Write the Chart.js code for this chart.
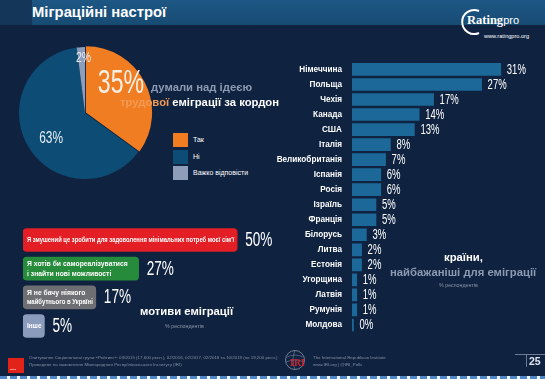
<!DOCTYPE html>
<html><head><meta charset="utf-8">
<script src="https://cdn.jsdelivr.net/npm/chart.js@4.4.1/dist/chart.umd.min.js"></script>
<style>
html,body{margin:0;padding:0;}
body{width:545px;height:379px;position:relative;overflow:hidden;background:#0f2240;font-family:"Liberation Sans",Arial,sans-serif;}
.abs{position:absolute;white-space:nowrap;}
#hdr{left:32px;top:0;width:513px;height:25px;background:linear-gradient(#1d5784,#174b74);}
#hdrl{left:0;top:0;width:32px;height:25px;background:#133659;}
#title{left:32px;top:4px;color:#fff;font-weight:bold;font-size:14.8px;}
.lg{position:absolute;left:173px;width:15px;height:14px;}
.lgt{position:absolute;left:193px;color:#fff;font-size:7px;}
.small{color:#8b97a9;font-size:5.3px;}
.foot{color:#8390a3;font-size:4.4px;line-height:7px;}
.hl{font-weight:bold;font-size:11.3px;}
</style>
</head>
<body>
<div id="hdrl" class="abs"></div>
<div id="hdr" class="abs"></div>
<div id="title" class="abs">Міграційні настрої</div>

<!-- logo -->
<svg class="abs" style="left:455px;top:6px" width="90" height="36">
  <path d="M 24 5 A 12 12 0 1 0 24 27" fill="none" stroke="#fff" stroke-width="2"/>
</svg>
<div class="abs" style="left:467px;top:13px;color:#fff;font-size:12.5px;font-weight:bold;font-family:'Liberation Serif',serif;">Rating<span style="font-weight:normal;font-family:'Liberation Sans',sans-serif;font-size:11px">pro</span></div>
<div class="abs" style="left:484px;top:33px;color:#fff;font-size:5.6px;">www.ratingpro.org</div>

<!-- pie -->
<div class="abs" style="left:17px;top:45px;width:136px;height:136px;"><canvas id="pie" width="136" height="136"></canvas></div>
<div class="abs hl" style="left:151px;top:81px;color:#8b9ab3;z-index:3">думали над ідеєю</div>
<div class="abs hl" style="left:120px;top:96px;color:#fff;z-index:3"><span style="color:#f39a55">трудової</span> еміграції за кордон</div>
<div id="legend"></div>

<!-- countries -->
<div class="abs" style="left:270px;top:55px;width:275px;height:285px;"><canvas id="countries" width="275" height="285"></canvas></div>
<div class="abs hl" style="left:444px;top:251px;color:#fff;">країни,</div>
<div class="abs hl" style="left:390px;top:266px;color:#8b9ab3;">найбажаніші для еміграції</div>
<div class="abs small" style="left:439px;top:282px;">% респондентів</div>

<!-- motives -->
<div class="abs" style="left:0px;top:222px;width:280px;height:122px;"><canvas id="motives" width="280" height="122"></canvas></div>
<div class="abs hl" style="left:140px;top:305px;color:#fff;">мотиви еміграції</div>
<div class="abs small" style="left:165px;top:323px;">% респондентів</div>

<!-- footer -->
<div class="abs" style="left:8px;top:358px;width:16px;height:15px;background:#e2231a;"></div>
<div class="abs" style="left:10px;top:368px;color:#fff;font-size:2.5px;">rating</div>
<div class="abs foot" style="left:29px;top:354px;">Опитування Соціологічної групи «Рейтинг»: 03/2015 (17,600 респ.), 02/2016, 02/2017, 02/2018 та 10/2019 (по 19,200 респ.)<br>Проведене на замовлення Міжнародного Республіканського Інституту (IRI)</div>
<svg class="abs" style="left:284px;top:349px" width="24" height="24">
  <circle cx="11" cy="11" r="9.5" fill="none" stroke="#8a95a8" stroke-width="0.8"/>
  <path d="M3 8 Q11 4 19 8 M2 13 Q11 9 20 13 M11 1.5 Q7 11 11 20.5" fill="none" stroke="#8a95a8" stroke-width="0.5"/>
</svg>
<div class="abs" style="left:290px;top:357px;color:#d2232a;font-weight:bold;font-size:10px;font-family:'Liberation Serif',serif;">IRI</div>
<div class="abs foot" style="left:313px;top:354px;">The International Republican Institute<br>www.IRI.org | @IRI_Polls</div>
<div class="abs" style="left:515px;top:354px;width:30px;height:1px;background:#6d7a8f;"></div>
<div class="abs" style="left:526px;top:355px;width:1px;height:12px;background:#6d7a8f;"></div>
<div class="abs" style="left:529px;top:355px;color:#dfe5ee;font-weight:bold;font-size:10.5px;">25</div>
<div class="abs" style="left:0;top:376px;width:545px;height:3px;background:repeating-linear-gradient(90deg,#4f86c8 0 7px,#eef3fa 7px 10px);"></div>

<script>
// ---------------- DATA ----------------
const pieLabels = ['Так', 'Ні', 'Важко відповісти'];
const pieValues = [35, 63, 2];

const countries = ['Німеччина','Польща','Чехія','Канада','США','Італія','Великобританія','Іспанія','Росія','Ізраїль','Франція','Білорусь','Литва','Естонія','Угорщина','Латвія','Румунія','Молдова'];
const countryValues = [31, 27, 17, 14, 13, 8, 7, 6, 6, 5, 5, 3, 2, 2, 1, 1, 1, 0];

const motives = [
  ["Я змушений це зробити для задоволення мінімальних потреб моєї сім'ї"],
  ['Я хотів би самореалізуватися', 'і знайти нові можливості'],
  ['Я не бачу ніякого', 'майбутнього в Україні'],
  ['Інше']
];
const motiveValues = [50, 27, 17, 5];

// ---------------- STYLE ----------------
const pieColors = ['#f07d22', '#0d4c74', '#8d9dba'];
const motiveColors = ['#e31e25', '#268b3b', '#6e6f72', '#8a9bbb'];
const numFont = '"Liberation Sans Narrow", "Liberation Sans", Arial, sans-serif';
Chart.defaults.devicePixelRatio = 1;
Chart.defaults.animation = false;

// legend (HTML)
const legTops = [133, 150, 166];
document.getElementById('legend').innerHTML = pieLabels.map((l, i) =>
  `<div class="lg" style="top:${legTops[i]}px;background:${pieColors[i]}"></div>` +
  `<div class="lgt" style="top:${legTops[i] + 3}px">${l}</div>`).join('');

function drawNum(ctx, text, x, y, size, sx, color, align) {
  ctx.save();
  ctx.translate(x, y);
  ctx.scale(sx, 1);
  ctx.font = `${size}px ${numFont}`;
  ctx.fillStyle = color;
  ctx.textAlign = align || 'left';
  ctx.textBaseline = 'middle';
  ctx.fillText(text, 0, 0);
  ctx.restore();
}

// pie labels plugin
const pieLabelPlugin = {
  id: 'pieLabels',
  afterDatasetsDraw(chart, args, opts) {
    const meta = chart.getDatasetMeta(0);
    const ctx = chart.ctx;
    meta.data.forEach((arc, i) => {
      const mid = (arc.startAngle + arc.endAngle) / 2 + opts.dAngle[i] * Math.PI / 180;
      const r = arc.outerRadius * opts.frac[i];
      const x = arc.x + Math.cos(mid) * r;
      const y = arc.y + Math.sin(mid) * r;
      drawNum(ctx, pieValues[i] + '%', x, y, opts.size[i], 0.7, opts.color[i], 'center');
    });
  }
};

new Chart(document.getElementById('pie'), {
  type: 'pie',
  data: { labels: pieLabels, datasets: [{ data: pieValues, backgroundColor: pieColors, borderWidth: 0, offset: [4, 0, 0] }] },
  options: {
    responsive: false,
    layout: { padding: 0 },
    plugins: {
      legend: { display: false }, tooltip: { enabled: false },
      pieLabels: { frac: [0.7, 0.64, 0.83], dAngle: [-12, -6, 2], size: [33, 17, 15], color: ['#f6efe6', '#e6edf5', '#e6edf5'] }
    }
  },
  plugins: [pieLabelPlugin]
});

// bar value label plugin
const barValuePlugin = {
  id: 'barValues',
  afterDatasetsDraw(chart, args, opts) {
    const meta = chart.getDatasetMeta(0);
    const data = chart.data.datasets[0].data;
    meta.data.forEach((bar, i) => {
      drawNum(chart.ctx, data[i] + '%', bar.x + opts.gap, bar.y + 0.5, opts.size, opts.sx, '#ffffff');
    });
  }
};

new Chart(document.getElementById('countries'), {
  type: 'bar',
  data: { labels: countries, datasets: [{ data: countryValues, backgroundColor: '#1c6898', barThickness: 12, minBarLength: 1.5 }] },
  options: {
    indexAxis: 'y',
    responsive: false,
    layout: { padding: { top: 6.5, bottom: 7.5, right: 1, left: 0 } },
    scales: {
      x: { display: false, min: 0, max: 40 },
      y: {
        grid: { display: false }, border: { display: false },
        ticks: { color: '#ffffff', font: { family: 'Liberation Sans', size: 8.2, weight: 'bold' }, padding: 2, autoSkip: false },
        afterFit(scale) { scale.width = 82; }
      }
    },
    plugins: { legend: { display: false }, tooltip: { enabled: false }, barValues: { gap: 6, size: 14, sx: 0.68 } }
  },
  plugins: [barValuePlugin]
});

// motives plugin (text inside bars)
const insideTextPlugin = {
  id: 'insideText',
  afterDatasetsDraw(chart, args, opts) {
    const meta = chart.getDatasetMeta(0);
    const ctx = chart.ctx;
    meta.data.forEach((bar, i) => {
      const lines = chart.data.labels[i];
      const lh = 9.5;
      const y0 = bar.y - (lines.length - 1) * lh / 2;
      ctx.save();
      ctx.fillStyle = '#ffffff';
      ctx.font = `bold 6.8px ${numFont}`;
      ctx.textBaseline = 'middle';
      lines.forEach((ln, k) => ctx.fillText(ln, bar.base + 4, y0 + k * lh + 0.5, bar.x - bar.base - 7));
      ctx.restore();
    });
  }
};

new Chart(document.getElementById('motives'), {
  type: 'bar',
  data: { labels: motives, datasets: [{ data: motiveValues, backgroundColor: motiveColors, barThickness: 23, borderRadius: 4, borderSkipped: false }] },
  options: {
    indexAxis: 'y',
    responsive: false,
    layout: { padding: { top: 3.7, bottom: 3.7, left: 23, right: 0 } },
    scales: {
      x: { display: false, min: 0, max: 60 },
      y: { display: false }
    },
    plugins: { legend: { display: false }, tooltip: { enabled: false }, barValues: { gap: 8, size: 20, sx: 0.68 } }
  },
  plugins: [barValuePlugin, insideTextPlugin]
});
</script>
</body></html>
